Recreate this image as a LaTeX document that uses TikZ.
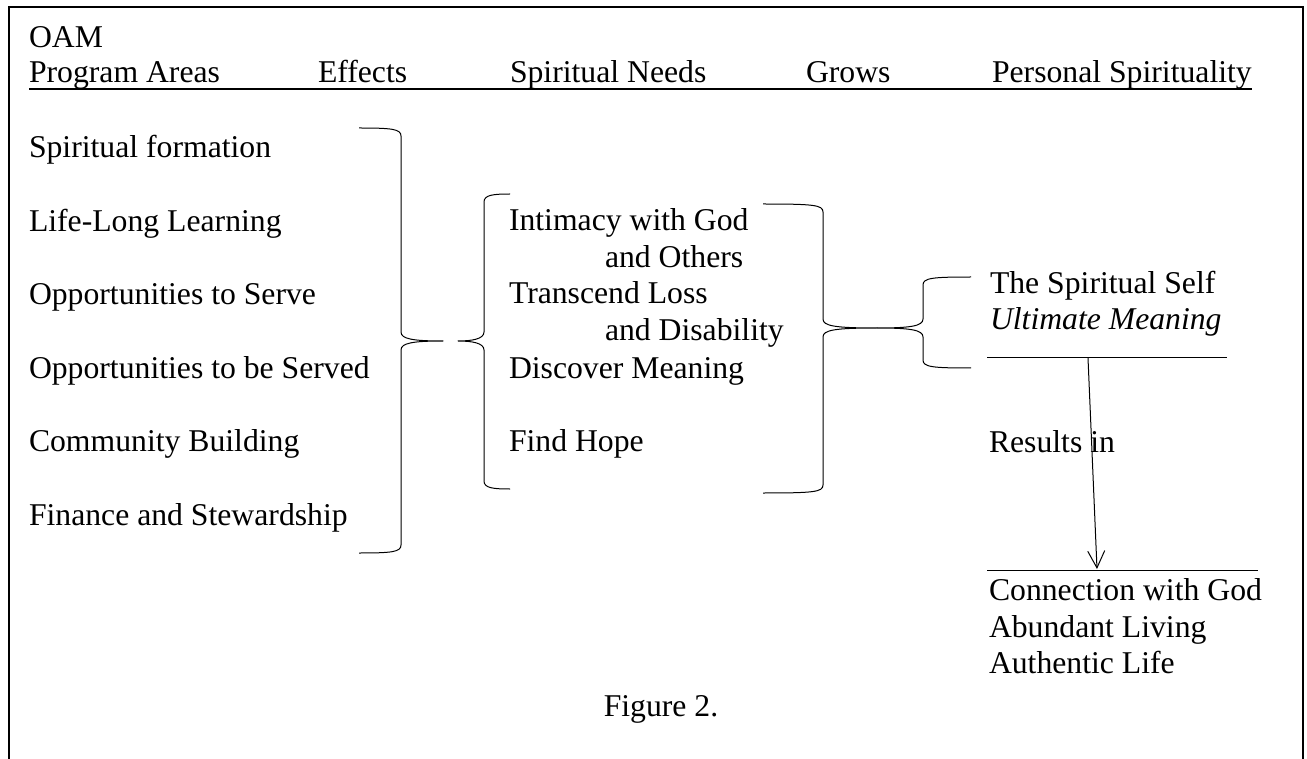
\documentclass[tikz,border=0pt]{standalone}
\usepackage{fontspec}
\setmainfont{Liberation Serif}
\usetikzlibrary{arrows.meta}

% curly brace: arm end x, spine x, tip x, top y, tip y, bottom y
\newcommand\curlybrace[6]{%
  \pgfmathsetmacro\cbd{(#2>#1)*2-1}%
  \draw[bracepath] (#1,#4) .. controls ({#2-9*\cbd},#4) and (#2,{#4+1}) .. (#2,{#4+8})
    -- (#2,{#5-9}) .. controls (#2,{#5-2}) and ({#2+12*\cbd},#5) .. (#3,#5)
    .. controls ({#2+12*\cbd},#5) and (#2,{#5+2}) .. (#2,{#5+9})
    -- (#2,{#6-8}) .. controls (#2,{#6-1}) and ({#2-9*\cbd},#6) .. (#1,#6);%
}

\begin{document}
\begin{tikzpicture}[x=1pt,y=-1pt,
  txt/.style={anchor=base west,inner sep=0pt,outer sep=0pt,
    font=\fontsize{31.7}{36.7}\selectfont},
  bracepath/.style={line width=1pt,line join=round},
  thinrule/.style={line width=1pt},
  thickrule/.style={line width=1.8pt},
  frameline/.style={line width=1.8pt},
  leadsto/.style={line width=1pt,-{Straight Barb[length=17pt,width=17pt,line width=1pt]}}]

\useasboundingbox (0,0) rectangle (1307,759);
\fill[white] (0,0) rectangle (1307,759);

% open frame (no bottom edge)
\draw[frameline] (9,759) -- (9,7) -- (1303,7) -- (1303,759);

% column headings
\node[txt] (oam)    at (29,48)  {OAM};
\node[txt] (hprog)  at (29,83)  {Program Areas};
\node[txt] (heff)   at (318,83) {Effects};
\node[txt] (hneeds) at (510,83) {Spiritual Needs};
\node[txt] (hgrows) at (806,83) {Grows};
\node[txt] (hpers)  at (992,83) {Personal Spirituality};
\draw[thickrule] ([yshift=-6pt]hprog.base west) -- ([yshift=-6pt]hpers.base east);

% program areas
\node[txt] (pa1) at (29,158)   {Spiritual formation};
\node[txt] (pa2) at (29,231.5) {Life-Long Learning};
\node[txt] (pa3) at (29,304.5) {Opportunities to Serve};
\node[txt] (pa4) at (29,378)   {Opportunities to be Served};
\node[txt] (pa5) at (29,451.5) {Community Building};
\node[txt] (pa6) at (29,525)   {Finance and Stewardship};

% spiritual needs
\node[txt] (sn1)  at (509,231) {Intimacy with God};
\node[txt] (sn1b) at (605,268) {and Others};
\node[txt] (sn2)  at (509,304) {Transcend Loss};
\node[txt] (sn2b) at (605,341) {and Disability};
\node[txt] (sn3)  at (509,378) {Discover Meaning};
\node[txt] (sn4)  at (509,451) {Find Hope};

% personal spirituality
\node[txt] (self)  at (990,294) {The Spiritual Self};
\node[txt] (ult)   at (990,330) {\itshape Ultimate Meaning};
\draw[thinrule] (987,358) coordinate (ulta) -- (1227,358) coordinate (ultb);
\node[txt] (res)   at (989,452) {Results in};
\draw[thinrule] (987,570) coordinate (cona) -- (1258,570) coordinate (conb);
\node[txt] (con1)  at (989,600) {Connection with God};
\node[txt] (con2)  at (989,637) {Abundant Living};
\node[txt] (con3)  at (989,673) {Authentic Life};

\coordinate (astart) at (1088,358);
\coordinate (aend)   at (1097,569);
\draw[leadsto] (astart) -- (aend);

% braces linking the groups
\curlybrace{359}{401}{443}{128}{341}{553}
\curlybrace{510}{484}{458}{194}{341}{489}
\curlybrace{763}{823}{877}{204}{328}{493}
\curlybrace{971}{923}{877}{277}{328}{368}

% caption
\node[txt,anchor=base] (cap) at (661,716) {Figure 2.};
\end{tikzpicture}
\end{document}
